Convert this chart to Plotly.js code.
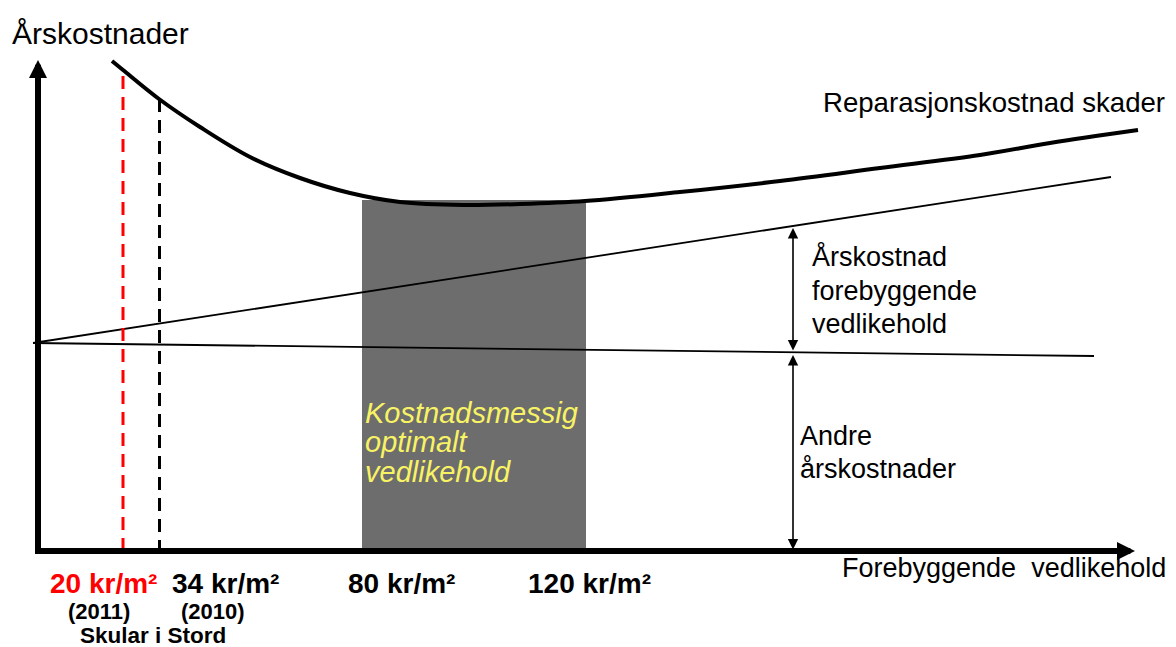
<!DOCTYPE html>
<html>
<head>
<meta charset="utf-8">
<script src="https://cdn.plot.ly/plotly-3.0.1.min.js"></script>
<style>html,body{margin:0;padding:0;background:#fff;}#chart{width:1176px;height:647px;}</style>
</head>
<body>
<div id="chart"></div>
<script>
// ---- data (conceptual units: x = maintenance effort, y = annual cost) ----
const curveX = [74, 85, 121, 162, 212, 262, 312, 362, 425, 482, 547, 642, 742, 842, 942, 1012, 1100];
const curveY = [490, 481, 452, 424, 394, 373, 358, 349, 346, 347, 350, 359, 370, 383, 396, 408, 421];
const preventiveX = [-5, 1073];
const preventiveY = [208, 374];
const otherX = [-5, 1056];
const otherY = [208, 195];
const optimalX = [324, 548];
const optimalTop = 351;
const skularNowX = 85, skularNowTop = 475;
const skularPrevX = 121.5, skularPrevTop = 452;
const tickLabels = ['20 kr/m²', '34 kr/m²', '80 kr/m²', '120 kr/m²'];
const yearLabels = ['(2011)', '(2010)'];
const schoolLabel = 'Skular i Stord';

const FONT = 'Arial, "Liberation Sans", sans-serif';
const line = (x, y, color, width, dash, shape) => ({
  type: 'scatter', mode: 'lines', x: x, y: y, hoverinfo: 'skip', showlegend: false,
  line: {color: color, width: width, dash: dash || 'solid', shape: shape || 'linear'}
});

const traces = [
  {type: 'scatter', mode: 'lines', x: [optimalX[0], optimalX[1], optimalX[1], optimalX[0], optimalX[0]],
   y: [0, 0, optimalTop, optimalTop, 0], fill: 'toself', fillcolor: '#6d6d6d',
   line: {width: 0, color: '#6d6d6d'}, hoverinfo: 'skip', showlegend: false},
  line(preventiveX, preventiveY, '#000', 1.8),
  line(otherX, otherY, '#000', 1.8),
  line([skularNowX, skularNowX], [skularNowTop, 0], '#ff0000', 3, '13px,8px'),
  line([skularPrevX, skularPrevX], [skularPrevTop, 0], '#000', 3, '13px,8px'),
  line(curveX, curveY, '#000', 4, 'solid', 'spline'),
  line([0, 0], [-1, 480], '#000', 6),
  line([-3, 1085], [0, 0], '#000', 6)
];

const txt = (text, x, y, size, opts) => Object.assign({
  text: text, x: x, y: y, xref: 'x', yref: 'y', showarrow: false,
  xanchor: 'left', yanchor: 'middle', font: {family: FONT, size: size, color: '#000'}
}, opts || {});
const bold = (t) => '<b>' + t + '</b>';
const yellow = {family: FONT, size: 29, color: '#f8f364'};

const annotations = [
  // axis arrow heads
  {x: 0, y: 491, ax: 0, ay: 460, xref: 'x', yref: 'y', axref: 'x', ayref: 'y', text: '',
   showarrow: true, arrowhead: 2, arrowsize: 0.6, arrowwidth: 6, arrowcolor: '#000'},
  {x: 1097, y: 0, ax: 1060, ay: 0, xref: 'x', yref: 'y', axref: 'x', ayref: 'y', text: '',
   showarrow: true, arrowhead: 2, arrowsize: 0.6, arrowwidth: 6, arrowcolor: '#000'},
  // double arrows
  {x: 755, y: 323, ax: 755, ay: 199, xref: 'x', yref: 'y', axref: 'x', ayref: 'y', text: '',
   showarrow: true, arrowside: 'end+start', arrowhead: 2, startarrowhead: 2,
   arrowsize: 1.3, startarrowsize: 1.3, arrowwidth: 1.6, arrowcolor: '#000'},
  {x: 755, y: 196, ax: 755, ay: 0, xref: 'x', yref: 'y', axref: 'x', ayref: 'y', text: '',
   showarrow: true, arrowside: 'end+start', arrowhead: 2, startarrowhead: 2,
   arrowsize: 1.3, startarrowsize: 1.3, arrowwidth: 1.6, arrowcolor: '#000'},
  // texts
  txt('Årskostnader', -28, 518, 30),
  txt('Reparasjonskostnad skader', 783, 449, 27.6),
  txt('Årskostnad', 772, 295, 27),
  txt('forebyggende', 772, 260, 27),
  txt('vedlikehold', 772, 227, 27),
  txt('Andre', 760, 115, 27),
  txt('årskostnader', 760, 82, 27),
  txt('<i>Kostnadsmessig</i>', 325, 138, 29, {font: yellow}),
  txt('<i>optimalt</i>', 325, 109, 29, {font: yellow}),
  txt('<i>vedlikehold</i>', 325, 79, 29, {font: yellow}),
  txt('Forebyggende\u00a0 vedlikehold', 802, -17, 27),
  txt(bold(tickLabels[0]), 10, -32, 28, {font: {family: FONT, size: 28, color: '#ff0000'}}),
  txt(bold(tickLabels[1]), 132, -32, 28),
  txt(bold(tickLabels[2]), 308, -32, 28),
  txt(bold(tickLabels[3]), 488, -32, 28),
  txt(bold(yearLabels[0]), 28, -60, 22),
  txt(bold(yearLabels[1]), 141, -60, 22),
  txt(bold(schoolLabel), 40, -84, 22.5)
];

const layout = {
  width: 1176, height: 647,
  margin: {l: 0, r: 0, t: 0, b: 0, pad: 0},
  paper_bgcolor: '#ffffff', plot_bgcolor: '#ffffff',
  xaxis: {range: [-38, 1138], visible: false, fixedrange: true},
  yaxis: {range: [-96, 551], visible: false, fixedrange: true},
  showlegend: false,
  annotations: annotations
};

Plotly.newPlot('chart', traces, layout, {displayModeBar: false, staticPlot: true});
</script>
</body>
</html>
